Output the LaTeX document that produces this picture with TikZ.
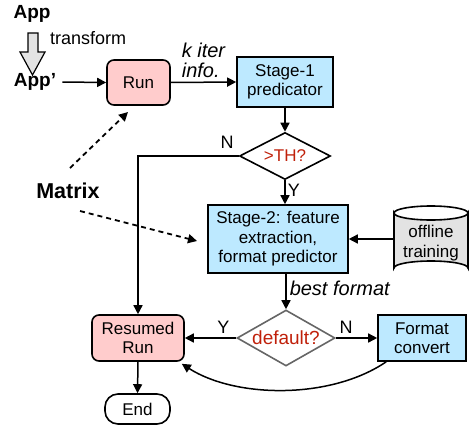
\documentclass[tikz,border=0pt]{standalone}
\usepackage{fontspec}
\setmainfont{Liberation Sans}
\usetikzlibrary{arrows.meta,shapes.geometric,calc}
\definecolor{pinkfill}{HTML}{FFCCCC}
\definecolor{bluefill}{HTML}{BDE9FF}
\definecolor{grayfill}{HTML}{E3E3E3}
\definecolor{redtext}{HTML}{C0200A}
\definecolor{graybord}{HTML}{666666}
\tikzset{
  base/.style={font=\fontsize{17}{19.5}\selectfont, align=center, inner sep=0pt},
  pinkbox/.style={base, draw, line width=1.6pt, fill=pinkfill, rounded corners=7pt},
  bluebox/.style={base, draw, line width=1.6pt, fill=bluefill},
  dia/.style={base, draw, line width=1.6pt, diamond, aspect=1.9, fill=white, text=redtext},
  lbl/.style={font=\fontsize{18}{20}\selectfont, inner sep=0pt},
  ilbl/.style={font=\fontsize{20}{20}\selectfont\itshape, inner sep=0pt, align=left},
  blbl/.style={font=\fontsize{19}{22}\selectfont\bfseries, inner sep=0pt},
  arr/.style={line width=1.5pt, -{Triangle[length=9pt,width=9pt]}},
  darr/.style={line width=1.8pt, dash pattern=on 5pt off 4pt, -{Triangle[length=9pt,width=9pt]}},
}
\begin{document}
\begin{tikzpicture}[x=1pt,y=-1pt]
\useasboundingbox (0,0) rectangle (469,431);
% text labels
\node[blbl] (app) at (32,14) {App};
\node[blbl] (appp) at (35,82) {App'};
\node[lbl, anchor=west] (tr) at (50,38) {transform};
\node[blbl, font=\fontsize{21.5}{24}\selectfont\bfseries] (mat) at (68,191) {Matrix};
% hollow arrow
\draw[line width=1.2pt, fill=grayfill] (28,33) -- (38,33) -- (38,52) -- (45,52) -- (32.5,75) -- (20,52) -- (28,52) -- cycle;
% boxes
\node[pinkbox, minimum width=63pt, minimum height=45pt] (run) at (138.5,82.5) {Run};
\node[bluebox, minimum width=96pt, minimum height=50pt] (s1) at (285,82) {Stage-1\\predicator};
\node[dia, minimum width=91pt, minimum height=47pt] (th) at (285,156) {>TH?};
\node[bluebox, minimum width=140pt, minimum height=68pt] (s2) at (278,239) {Stage-2: feature\\extraction,\\format predictor};
% cylinder
\draw[line width=1.6pt, fill=grayfill] (394,213) -- (394,268) arc[start angle=180, end angle=360, x radius=37pt, y radius=-7pt] -- (468,213) arc[start angle=0, end angle=180, x radius=37pt, y radius=-7pt] -- cycle;
\draw[line width=1.6pt] (394,213) arc[start angle=180, end angle=360, x radius=37pt, y radius=-7pt];
\node[base, minimum width=74pt, minimum height=50pt] (cyl) at (431,243) {offline\\training};
\node[dia, draw=graybord, minimum width=98pt, minimum height=56pt, font=\fontsize{19}{21}\selectfont] (def) at (286,338) {default?};
\node[pinkbox, minimum width=92pt, minimum height=46pt] (rr) at (138,338) {Resumed\\Run};
\node[bluebox, minimum width=88pt, minimum height=46pt] (fc) at (422,338) {Format\\convert};
\node[pinkbox, fill=white, rounded corners=13pt, minimum width=65pt, minimum height=30pt] (end) at (137.5,409) {End};
% connectors
\coordinate (ap) at ($(appp.east)+(6,0)$);
\draw[arr] (ap) -- (run.west);
\draw[arr] (run.east) -- (s1.west) node[ilbl, midway, above=4pt] (kit) {k iter\\info.};
\draw[arr] (s1.south) -- (th.north);
\draw[arr] (th.west) -- (th.west -| rr.north) -- (rr.north);
\node[lbl] (nlab) at (227,142) {N};
\draw[arr] (th.south) -- (th.south |- s2.north) node[lbl, pos=0.4, right=2pt] (ylab) {Y};
\draw[arr] (cyl.west |- s2.east) -- (s2.east);
\draw[arr] (s2.south -| def.north) -- (def.north) node[ilbl, pos=0.4, right=3pt] (bf) {best format};
\draw[arr] (def.west) -- (rr.east) node[lbl, pos=0.25, above=4pt] (y2) {Y};
\draw[arr] (def.east) -- (fc.west) node[lbl, pos=0.25, above=4pt] (n2) {N};
\draw[arr] ($(fc.south west)+(9,0)$) .. controls (330,400) and (235,398) .. ($(rr.south east)+(-3,2)$);
\draw[arr] (rr.south) -- (end.north);
% dashed
\coordinate (m1) at (70,168);
\coordinate (m1t) at (128,112);
\coordinate (m2) at (80,211);
\coordinate (m2t) at (197,241);
\draw[darr] (m1) -- (m1t);
\draw[darr] (m2) -- (m2t);
\end{tikzpicture}
\end{document}
